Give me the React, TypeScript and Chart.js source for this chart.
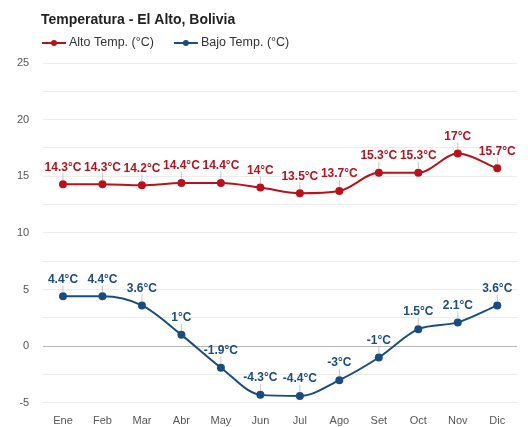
import React, { useEffect, useRef } from "react";
import { Chart, registerables } from "chart.js";

Chart.register(...registerables);

const months = ["Ene", "Feb", "Mar", "Abr", "May", "Jun", "Jul", "Ago", "Set", "Oct", "Nov", "Dic"];
const highTemps = [14.3, 14.3, 14.2, 14.4, 14.4, 14.0, 13.5, 13.7, 15.3, 15.3, 17.0, 15.7];
const lowTemps = [4.4, 4.4, 3.6, 1.0, -1.9, -4.3, -4.4, -3.0, -1.0, 1.5, 2.1, 3.6];
const highLabel = "Alto Temp. (°C)";
const lowLabel = "Bajo Temp. (°C)";
const titleText = "Temperatura - El Alto, Bolivia";

const RED = "#b8121c";
const BLUE = "#1b4c7e";
const FONT = "'Liberation Sans', Arial, sans-serif";

const headerPlugin = {
  id: "header",
  afterDraw(chart: any) {
    const ctx = chart.ctx;
    ctx.save();
    ctx.fillStyle = "#222";
    ctx.font = `bold 14px ${FONT}`;
    ctx.textAlign = "left";
    ctx.textBaseline = "middle";
    ctx.fillText(titleText, 41, 20);
    let x = 42;
    const y = 43;
    chart.data.datasets.forEach((ds: any) => {
      const c = ds.borderColor;
      ctx.strokeStyle = c;
      ctx.lineWidth = 2;
      ctx.beginPath();
      ctx.moveTo(x, y);
      ctx.lineTo(x + 24, y);
      ctx.stroke();
      ctx.fillStyle = c;
      ctx.beginPath();
      ctx.arc(x + 12, y, 3, 0, Math.PI * 2);
      ctx.fill();
      ctx.fillStyle = "#333";
      ctx.font = `12.5px ${FONT}`;
      ctx.textBaseline = "middle";
      ctx.fillText(ds.label, x + 27, y);
      const w = ctx.measureText(ds.label).width;
      x = x + 27 + w + 20;
    });
    ctx.restore();
  },
};

const labelPlugin = {
  id: "pointLabels",
  afterDatasetsDraw(chart: any) {
    const ctx = chart.ctx;
    ctx.save();
    chart.data.datasets.forEach((ds: any, i: number) => {
      const meta = chart.getDatasetMeta(i);
      meta.data.forEach((pt: any, j: number) => {
        const v = ds.data[j];
        ctx.strokeStyle = "rgba(160,160,160,0.6)";
        ctx.lineWidth = 1;
        ctx.beginPath();
        ctx.moveTo(pt.x, pt.y - 4);
        ctx.lineTo(pt.x, pt.y - 11);
        ctx.stroke();
        ctx.fillStyle = ds.borderColor;
        ctx.font = `bold 12px ${FONT}`;
        ctx.textAlign = "center";
        ctx.textBaseline = "bottom";
        ctx.fillText(`${v}°C`, pt.x, pt.y - 11);
      });
    });
    ctx.restore();
  },
};

export default function App() {
  const ref = useRef<HTMLCanvasElement>(null);
  useEffect(() => {
    const chart = new Chart(ref.current!, {
      type: "line",
      data: {
        labels: months,
        datasets: [
          {
            label: highLabel,
            data: highTemps,
            borderColor: RED,
            backgroundColor: RED,
            borderWidth: 2,
            pointRadius: 3,
            pointStyle: "circle",
            cubicInterpolationMode: "monotone",
          },
          {
            label: lowLabel,
            data: lowTemps,
            borderColor: BLUE,
            backgroundColor: BLUE,
            borderWidth: 2,
            pointRadius: 3,
            pointStyle: "circle",
            cubicInterpolationMode: "monotone",
          },
        ],
      },
      options: {
        animation: false,
        responsive: false,
        layout: { padding: { left: 3, right: 11, top: 63, bottom: -5 } },
        plugins: {
          title: { display: false },
          legend: { display: false },
          tooltip: { enabled: false },
        },
        scales: {
          x: {
            offset: true,
            grid: { display: false },
            border: { display: false },
            ticks: { color: "#555", font: { family: FONT, size: 11 }, padding: 4 },
          },
          y: {
            min: -5,
            max: 25,
            border: { display: false },
            grid: {
              color: (c: any) => (c.tick && c.tick.value === 0 ? "#b5b5b5" : "#ececec"),
              drawTicks: false,
            },
            ticks: {
              stepSize: 2.5,
              color: "#555",
              font: { family: FONT, size: 11 },
              padding: 14,
              callback: (v: any) => (Number(v) % 5 === 0 ? String(v) : ""),
            },
          },
        },
      },
      plugins: [labelPlugin, headerPlugin],
    } as any);
    return () => chart.destroy();
  }, []);
  return (
    <div style={{ position: "fixed", left: 0, top: 0, width: 528, height: 427, background: "#fff" }}>
      <canvas ref={ref} width={528} height={427} />
    </div>
  );
}
